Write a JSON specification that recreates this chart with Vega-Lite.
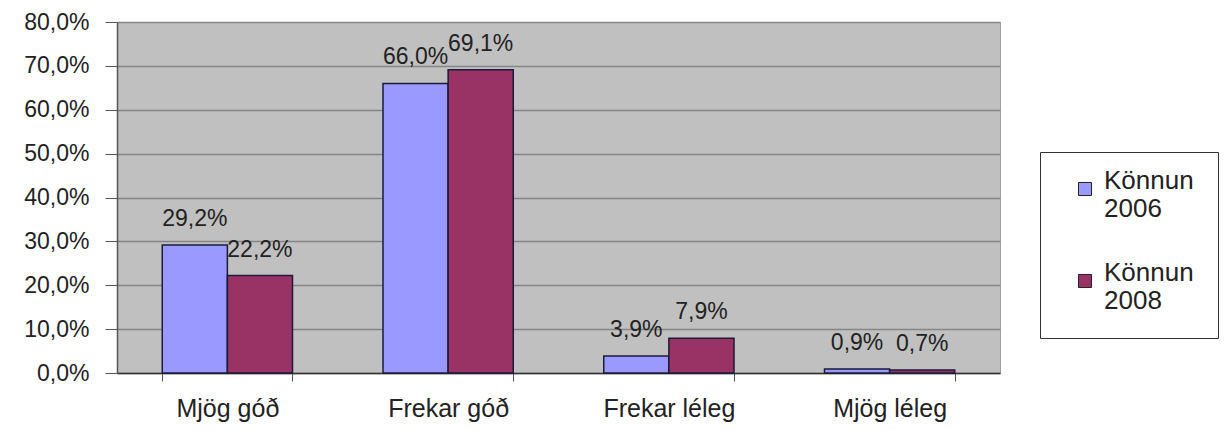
{
  "$schema": "https://vega.github.io/schema/vega-lite/v6.json",
  "width": 883,
  "height": 351,
  "autosize": "none",
  "padding": {"left": 117, "top": 22, "right": 226, "bottom": 57},
  "background": "white",
  "config": {
    "locale": {"number": {"decimal": ",", "thousands": ".", "grouping": [3], "currency": ["", " kr"]}},
    "view": {"fill": "#c0c0c0", "stroke": "#a0a0a0", "strokeWidth": 1},
    "font": "Liberation Sans"
  },
  "data": {
    "values": [
      {"flokkur": "Mjög góð", "konnun": "Könnun 2006", "hlutfall": 0.292},
      {"flokkur": "Mjög góð", "konnun": "Könnun 2008", "hlutfall": 0.222},
      {"flokkur": "Frekar góð", "konnun": "Könnun 2006", "hlutfall": 0.660},
      {"flokkur": "Frekar góð", "konnun": "Könnun 2008", "hlutfall": 0.691},
      {"flokkur": "Frekar léleg", "konnun": "Könnun 2006", "hlutfall": 0.039},
      {"flokkur": "Frekar léleg", "konnun": "Könnun 2008", "hlutfall": 0.079},
      {"flokkur": "Mjög léleg", "konnun": "Könnun 2006", "hlutfall": 0.009},
      {"flokkur": "Mjög léleg", "konnun": "Könnun 2008", "hlutfall": 0.007}
    ]
  },
  "encoding": {
    "x": {
      "field": "flokkur", "type": "nominal", "sort": null, "title": null,
      "scale": {"paddingInner": 0.41, "paddingOuter": 0.205},
      "axis": {"labelAngle": 0, "labelFontSize": 25, "labelColor": "#222", "tickBand": "extent", "tickSize": 8, "tickColor": "#555", "domainColor": "#333", "domainWidth": 1.5, "labelPadding": 15, "labelOverlap": false}
    },
    "xOffset": {"field": "konnun", "type": "nominal"},
    "y": {
      "field": "hlutfall", "type": "quantitative", "title": null,
      "scale": {"domain": [0, 0.8]},
      "axis": {"format": ".1%", "values": [0, 0.1, 0.2, 0.3, 0.4, 0.5, 0.6, 0.7, 0.8], "labelOverlap": false, "labelFontSize": 23, "labelColor": "#222", "gridColor": "#858585", "gridWidth": 1.5, "tickSize": 12, "tickColor": "#555", "domainColor": "#555", "domainWidth": 1.5, "labelPadding": 16}
    }
  },
  "layer": [
    {
      "mark": {"type": "bar", "stroke": "#1a1a3a", "strokeWidth": 1.5},
      "encoding": {
        "color": {
          "field": "konnun", "type": "nominal", "title": null,
          "scale": {"domain": ["Könnun 2006", "Könnun 2008"], "range": ["#9999ff", "#993366"]},
          "legend": {
            "orient": "none", "legendX": 923, "legendY": 130,
            "labelExpr": "['Könnun', substring(datum.label, 7)]",
            "labelFontSize": 26, "labelColor": "#222", "labelLimit": 200,
            "labelBaseline": "alphabetic", "labelOffset": 6,
            "symbolType": "square", "symbolSize": 170, "symbolStrokeColor": "#222", "symbolStrokeWidth": 1,
            "symbolOffset": 8,
            "strokeColor": "#333", "fillColor": "white", "padding": 24,
            "rowPadding": 38
          }
        }
      }
    },
    {
      "mark": {"type": "text", "baseline": "alphabetic", "dy": -19, "fontSize": 23, "color": "#222"},
      "encoding": {
        "text": {"field": "hlutfall", "type": "quantitative", "format": ".1%"}
      }
    }
  ]
}
